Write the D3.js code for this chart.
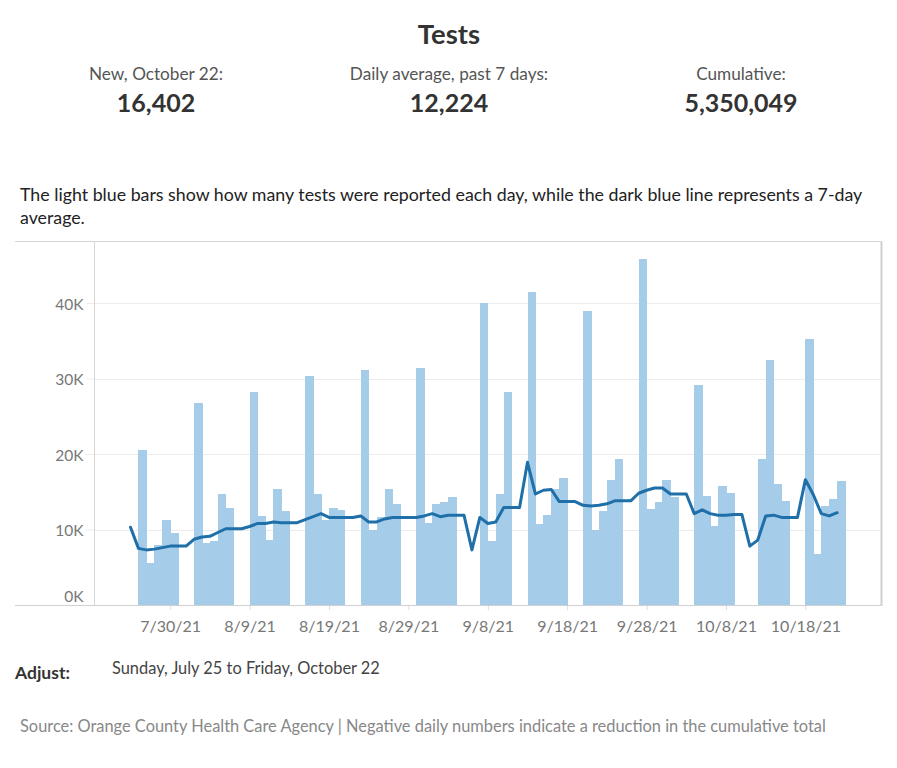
<!DOCTYPE html>
<html>
<head>
<meta charset="utf-8">
<script src="https://cdn.jsdelivr.net/npm/d3@7"></script>
<style>
  html, body { margin: 0; padding: 0; background: #fff; }
  svg { display: block; }
  text { font-family: Lato, "Open Sans", sans-serif; }
</style>
</head>
<body>
<svg id="chart" width="897" height="768"></svg>
<script>
// ---- data ----
const headerLabels = ["New, October 22:", "Daily average, past 7 days:", "Cumulative:"];
const headerValues = ["16,402", "12,224", "5,350,049"];

const barDates = [
  "2021-07-26","2021-07-27","2021-07-28","2021-07-29","2021-07-30",
  "2021-08-02","2021-08-03","2021-08-04","2021-08-05","2021-08-06",
  "2021-08-09","2021-08-10","2021-08-11","2021-08-12","2021-08-13",
  "2021-08-16","2021-08-17","2021-08-18","2021-08-19","2021-08-20",
  "2021-08-23","2021-08-24","2021-08-25","2021-08-26","2021-08-27",
  "2021-08-30","2021-08-31","2021-09-01","2021-09-02","2021-09-03",
  "2021-09-07","2021-09-08","2021-09-09","2021-09-10",
  "2021-09-13","2021-09-14","2021-09-15","2021-09-16","2021-09-17",
  "2021-09-20","2021-09-21","2021-09-22","2021-09-23","2021-09-24",
  "2021-09-27","2021-09-28","2021-09-29","2021-09-30","2021-10-01",
  "2021-10-04","2021-10-05","2021-10-06","2021-10-07","2021-10-08",
  "2021-10-12","2021-10-13","2021-10-14","2021-10-15",
  "2021-10-18","2021-10-19","2021-10-20","2021-10-21","2021-10-22"
];
const dailyTests = [
  20500, 5500, 7900, 11300, 9500,
  26800, 8200, 8500, 14700, 12800,
  28200, 11800, 8600, 15400, 12400,
  30300, 14700, 11300, 12800, 12600,
  31100, 10000, 11700, 15300, 13400,
  31400, 10900, 13400, 13600, 14300,
  40000, 8500, 14700, 28200,
  41400, 10700, 11900, 15300, 16800,
  38900, 10000, 12400, 16600, 19400,
  45800, 12700, 13600, 16600, 14300,
  29200, 14400, 10400, 15700, 14900,
  19400, 32400, 16000, 13800,
  35200, 6800, 13100, 14100, 16402
];

// 7-day average, one value per day from 2021-07-25 to 2021-10-22
const avgStart = "2021-07-25";
const avgEnd = "2021-10-22";
const sevenDayAvg = [
  10300, 7500, 7300, 7400, 7600, 7800, 7800,                 // Jul 25-31
  7800, 8700, 9000, 9100, 9600, 10100, 10100,                // Aug 1-7
  10100, 10400, 10800, 10800, 11000, 10900, 10900,           // Aug 8-14
  10900, 11300, 11700, 12100, 11600, 11600, 11600,           // Aug 15-21
  11600, 11800, 11000, 11000, 11400, 11600, 11600,           // Aug 22-28
  11600, 11600, 11800,                                       // Aug 29-31
  12100, 11700, 11900, 11900,                                // Sep 1-4
  11900, 7300, 11600, 10800, 11000, 12900, 12900,            // Sep 5-11
  12900, 18900, 14700, 15200, 15300, 13700, 13700,           // Sep 12-18
  13700, 13200, 13100, 13200, 13400, 13800, 13800,           // Sep 19-25
  13800, 14800, 15200, 15500, 15500,                         // Sep 26-30
  14700, 14700,                                              // Oct 1-2
  14700, 12100, 12600, 12100, 11900, 11900, 12000,           // Oct 3-9
  12000, 7800, 8600, 11800, 11900, 11600, 11600,             // Oct 10-16
  11600, 16600, 14600, 12100, 11800, 12224                   // Oct 17-22
];

const xTickDates = ["2021-07-30","2021-08-09","2021-08-19","2021-08-29","2021-09-08",
                    "2021-09-18","2021-09-28","2021-10-08","2021-10-18"];
const yTickValues = [0, 10000, 20000, 30000, 40000];

// ---- drawing ----
const parse = d3.timeParse("%Y-%m-%d");
const svg = d3.select("#chart");

const frame = { left: 94.5, right: 881.5, top: 241.5, bottom: 605, outerLeft: 15 };
const dayPx = 7.94;
const firstDay = parse(avgStart), lastDay = parse(avgEnd);
const nDays = d3.timeDay.count(firstDay, lastDay);

const x = d3.scaleTime()
  .domain([firstDay, lastDay])
  .range([130.5, 130.5 + nDays * dayPx]);
const y = d3.scaleLinear()
  .domain([0, 48000])
  .range([frame.bottom, frame.bottom - 48000 * 75.5 / 10000]);

// Header
svg.append("text").attr("x", 449).attr("y", 44).attr("text-anchor", "middle")
  .attr("font-size", 27.5).attr("font-weight", 700).attr("fill", "#333").text("Tests");
const headerX = [156, 449, 741];
headerLabels.forEach((t, i) => {
  svg.append("text").attr("x", headerX[i]).attr("y", 79.5).attr("text-anchor", "middle")
    .attr("font-size", 17.2).attr("fill", "#555").text(t);
  svg.append("text").attr("x", headerX[i]).attr("y", 111.5).attr("text-anchor", "middle")
    .attr("font-size", 25).attr("font-weight", 700).attr("fill", "#333").text(headerValues[i]);
});

// Description
const desc = svg.append("text").attr("font-size", 17.8).attr("fill", "#222");
desc.append("tspan").attr("x", 20).attr("y", 201)
  .text("The light blue bars show how many tests were reported each day, while the dark blue line represents a 7-day");
desc.append("tspan").attr("x", 20).attr("y", 224).text("average.");

// Gridlines
svg.append("g").selectAll("line").data(yTickValues.filter(v => v > 0)).join("line")
  .attr("x1", frame.left).attr("x2", frame.right)
  .attr("y1", d => Math.round(y(d)) + 0.5).attr("y2", d => Math.round(y(d)) + 0.5)
  .attr("stroke", "#ececec").attr("stroke-width", 1);

// Y axis
const yAxis = svg.append("g").attr("transform", `translate(${frame.left},0)`)
  .call(d3.axisLeft(y).tickValues(yTickValues).tickSize(8).tickPadding(3)
    .tickFormat(d => (d / 1000) + "K"));
yAxis.select(".domain").remove();
yAxis.selectAll(".tick line").attr("stroke", "#ececec");
yAxis.selectAll(".tick").filter(d => d === 0).select("line").remove();
yAxis.selectAll(".tick text").attr("font-size", 15.5).attr("fill", "#777")
  .attr("font-family", "Lato, sans-serif")
  .attr("dy", d => d === 0 ? "-0.25em" : "0.4em");

// Bars
const bars = barDates.map((d, i) => ({ date: parse(d), value: dailyTests[i] }));
svg.append("g").attr("shape-rendering", "crispEdges").selectAll("rect").data(bars).join("rect")
  .attr("x", d => x(d.date))
  .attr("width", d => x(d3.timeDay.offset(d.date, 1)) - x(d.date) + 0.6)
  .attr("y", d => y(d.value))
  .attr("height", d => y(0) - y(d.value))
  .attr("fill", "#a5cce8");

// Line
const days = d3.timeDay.range(firstDay, d3.timeDay.offset(lastDay, 1));
const avgData = days.map((d, i) => ({ date: d, value: sevenDayAvg[i] }));
svg.append("path").datum(avgData)
  .attr("fill", "none").attr("stroke", "#1f6fa8").attr("stroke-width", 3)
  .attr("stroke-linejoin", "round").attr("stroke-linecap", "round")
  .attr("d", d3.line().x(d => x(d.date)).y(d => y(d.value)));

// Frame lines
svg.append("line").attr("x1", frame.outerLeft).attr("x2", frame.right)
  .attr("y1", frame.top).attr("y2", frame.top).attr("stroke", "#d6d6d6");
svg.append("line").attr("x1", frame.left).attr("x2", frame.left)
  .attr("y1", frame.top).attr("y2", frame.bottom).attr("stroke", "#d6d6d6");
svg.append("line").attr("x1", frame.right).attr("x2", frame.right)
  .attr("y1", frame.top).attr("y2", frame.bottom).attr("stroke", "#cfcfcf").attr("stroke-width", 2);

// X axis
const xAxis = svg.append("g").attr("transform", `translate(0,${frame.bottom})`)
  .call(d3.axisBottom(x).tickValues(xTickDates.map(parse)).tickSize(5).tickPadding(11)
    .tickFormat(d3.timeFormat("%-m/%-d/%y")));
xAxis.select(".domain").remove();
xAxis.selectAll(".tick line").attr("stroke", "#ddd");
xAxis.selectAll(".tick text").attr("font-size", 16).attr("fill", "#777")
  .attr("font-family", "Lato, sans-serif");
svg.append("line").attr("x1", frame.outerLeft).attr("x2", frame.right + 1)
  .attr("y1", frame.bottom + 0.5).attr("y2", frame.bottom + 0.5).attr("stroke", "#d0d0d0");

// Footer
svg.append("text").attr("x", 15).attr("y", 679).attr("font-size", 17.5)
  .attr("font-weight", 700).attr("fill", "#333").text("Adjust:");
svg.append("text").attr("x", 112).attr("y", 674).attr("font-size", 16.4)
  .attr("fill", "#444").text("Sunday, July 25 to Friday, October 22");
svg.append("text").attr("x", 20).attr("y", 732).attr("font-size", 16.4)
  .attr("fill", "#888").text("Source: Orange County Health Care Agency | Negative daily numbers indicate a reduction in the cumulative total");
</script>
</body>
</html>
